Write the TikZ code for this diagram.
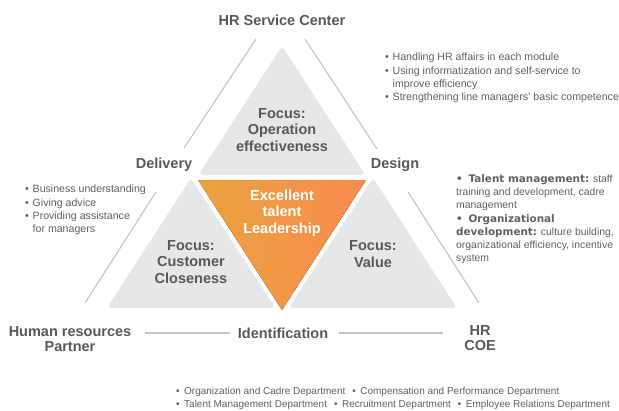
\documentclass[tikz,border=0pt]{standalone}
\usepackage{fontspec}
\setmainfont{Liberation Sans}
\newfontfamily\heavyfont{DejaVu Sans}
\definecolor{txtgray}{HTML}{595959}
\definecolor{bultxt}{HTML}{606060}
\definecolor{linegray}{HTML}{C4C4C4}
\definecolor{trigray}{HTML}{E6E7E9}
\definecolor{orgL}{HTML}{E9A33E}
\definecolor{orgR}{HTML}{FB8A4F}
\newcommand{\bul}{\makebox[7.5pt][l]{•}}
\newcommand{\hbul}{{\heavyfont\bfseries •}}
\tikzset{
  lbl/.style={font=\fontsize{14.5}{15}\selectfont\bfseries, text=txtgray, align=center, inner sep=0pt},
  tritxt/.style={font=\fontsize{14.5}{16.3}\selectfont\bfseries, text=txtgray, align=center, inner sep=0pt},
  wtxt/.style={tritxt, text=white},
  bullist/.style={font=\fontsize{10.6}{13.3}\selectfont, text=bultxt, align=left, inner sep=0pt, anchor=north west},
  guide/.style={draw=linegray, line width=1.1pt},
  grayt/.style={fill=trigray, rounded corners=4pt},
}
\begin{document}
\begin{tikzpicture}[x=1pt,y=-1pt]
\useasboundingbox (0,0) rectangle (619,410);
% triangles
\fill[grayt] (282,46) -- (198.5,175) -- (365.5,175) -- cycle;
\fill[grayt] (191,178) -- (107,308) -- (275.5,308) -- cycle;
\fill[grayt] (373,178) -- (457,308) -- (288.5,308) -- cycle;
\fill[left color=orgL, right color=orgR] (198,180) -- (366,180) -- (282,310) -- cycle;
% triangle texts
\node[tritxt] (ftop) at (282,130) {Focus:\\Operation\\effectiveness};
\node[wtxt] (fmid) at (282,213) {Excellent\\talent\\Leadership};
\node[tritxt] (fleft) at (191,262) {Focus:\\Customer\\Closeness};
\node[tritxt] (fright) at (373,254) {Focus:\\Value};
% labels
\node[lbl] (hrsc) at (282,20) {HR Service Center};
\node[lbl] (deliv) at (164,165) {Delivery};
\node[lbl] (design) at (395,165) {Design};
\node[lbl] (hrbp) at (70,339.5) {Human resources\\Partner};
\node[lbl] (ident) at (283,333) {Identification};
\node[lbl] (coe) at (480,338.5) {HR\\COE};
% guide lines
\coordinate (ula) at (256,39); \coordinate (ulb) at (184,148);
\coordinate (ura) at (305,39); \coordinate (urb) at (377,149);
\coordinate (lla) at (156,192); \coordinate (llb) at (85,303);
\coordinate (lra) at (408,192); \coordinate (lrb) at (479,303);
\coordinate (hla) at (145,333); \coordinate (hlb) at (230,333);
\coordinate (hra) at (339,333); \coordinate (hrb) at (443,333);
\draw[guide] (ula) -- (ulb);
\draw[guide] (ura) -- (urb);
\draw[guide] (lla) -- (llb);
\draw[guide] (lra) -- (lrb);
\draw[guide] (hla) -- (hlb);
\draw[guide] (hra) -- (hrb);
% bullet lists
\node[bullist] (ltr) at (385,53) {\bul Handling HR affairs in each module\\
\bul Using informatization and self-service to\\
\hspace*{7.5pt}improve efficiency\\
\bul Strengthening line managers' basic competence};
\node[bullist] (lleft) at (25,185) {\bul Business understanding\\
\bul Giving advice\\
\bul Providing assistance\\
\hspace*{7.5pt}for managers};
\node[bullist, font=\fontsize{10.4}{13.3}\selectfont] (lright) at (456,174) {\hbul\ \ {\heavyfont\bfseries Talent management:} staff\\
training and development, cadre\\
management\\
\hbul\ \ {\heavyfont\bfseries Organizational}\\
{\heavyfont\bfseries development:} culture building,\\
organizational efficiency, incentive\\
system};
\node[bullist, font=\fontsize{10}{12.6}\selectfont] (lbottom) at (176,387) {\makebox[8pt][l]{•}Organization and Cadre Department\hspace{7pt}\makebox[8pt][l]{•}Compensation and Performance Department\\
\makebox[8pt][l]{•}Talent Management Department\hspace{7pt}\makebox[8pt][l]{•}Recruitment Department\hspace{7pt}\makebox[8pt][l]{•}Employee Relations Department};
\end{tikzpicture}
\end{document}
